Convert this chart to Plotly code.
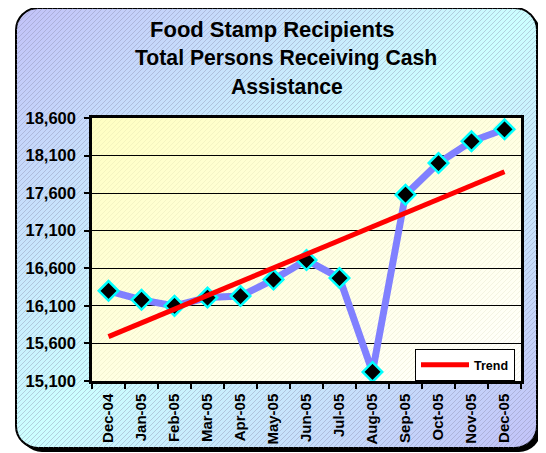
import base64
import plotly.graph_objects as go

# data
months = ['Dec-04', 'Jan-05', 'Feb-05', 'Mar-05', 'Apr-05', 'May-05', 'Jun-05',
          'Jul-05', 'Aug-05', 'Sep-05', 'Oct-05', 'Nov-05', 'Dec-05']
recipients = [16300, 16180, 16100, 16210, 16230, 16450, 16710,
              16470, 15220, 17580, 18000, 18290, 18450]
trend_months = ['Dec-04', 'Dec-05']
trend_values = [15690, 17885]
y_ticks = [15100, 15600, 16100, 16600, 17100, 17600, 18100, 18600]

W, H = 546, 453
OFF = 8  # page body margin, figure starts at (8, 8) in the window
# plot area in window pixels: x 92..521, y 118..381
L, T = 92 - OFF, 118 - OFF
R, B = W - (521 - OFF), H - (381 - OFF)
pw, ph = W - L - R, H - T - B

FONT = 'Liberation Sans, Arial, sans-serif'

# background: rounded box with diagonal gradient + hatching, pale plot area
bx, by, bw, bh = 16 - OFF, 0, 521, 448 - OFF
svg = f'''<svg xmlns="http://www.w3.org/2000/svg" width="{W}" height="{H}" viewBox="0 0 {W} {H}">
<defs>
<linearGradient id="bg" x1="0" y1="0" x2="1" y2="1">
<stop offset="0" stop-color="#c2c2f8"/><stop offset="0.5" stop-color="#ccffff"/><stop offset="1" stop-color="#c2c2f8"/>
</linearGradient>
<linearGradient id="pa" x1="0" y1="0" x2="1" y2="1">
<stop offset="0" stop-color="#ffffc2"/><stop offset="1" stop-color="#ffffff"/>
</linearGradient>
<pattern id="hatch" patternUnits="userSpaceOnUse" width="5" height="5">
<path d="M-1,1 l2,-2 M0,5 l5,-5 M4,6 l2,-2" stroke="#8a8aa8" stroke-width="0.7" stroke-opacity="0.55"/>
</pattern>
<pattern id="hatch2" patternUnits="userSpaceOnUse" width="5" height="5">
<path d="M-1,1 l2,-2 M0,5 l5,-5 M4,6 l2,-2" stroke="#c8c8a0" stroke-width="0.6" stroke-opacity="0.35"/>
</pattern>
</defs>
<rect x="{bx + 4}" y="{by + 4}" width="{bw}" height="{bh}" rx="22" fill="#000"/>
<rect x="{bx}" y="{by}" width="{bw}" height="{bh}" rx="22" fill="url(#bg)" stroke="#000" stroke-width="2"/>
<rect x="{bx}" y="{by}" width="{bw}" height="{bh}" rx="22" fill="url(#hatch)"/>
<rect x="{L}" y="{T}" width="{pw}" height="{ph}" fill="url(#pa)"/>
<rect x="{L}" y="{T}" width="{pw}" height="{ph}" fill="url(#hatch2)"/>
</svg>'''
bg_src = 'data:image/svg+xml;base64,' + base64.b64encode(svg.encode()).decode()

fig = go.Figure()
fig.add_trace(go.Scatter(
    x=months, y=recipients, mode='lines+markers', showlegend=False,
    line=dict(color='#8080ff', width=7),
    marker=dict(symbol='diamond', size=15, color='black',
                line=dict(color='#00ffff', width=2.5))))
fig.add_trace(go.Scatter(
    x=trend_months, y=trend_values, mode='lines', name='Trend',
    line=dict(color='#ff0000', width=5)))

# window pixel -> paper coords
def px_x(p):
    return (p - OFF - L) / pw

def px_y(p):
    return (H - B - (p - OFF)) / ph

titles = [('Food Stamp Recipients', 22, 272, 29),
          ('Total Persons Receiving Cash', 21.2, 285.5, 58),
          ('Assistance', 21.2, 286.5, 86)]
for txt, size, cx, cy in titles:
    fig.add_annotation(text=txt, xref='paper', yref='paper', x=px_x(cx), y=px_y(cy),
                       xanchor='center', yanchor='middle', showarrow=False,
                       font=dict(family=FONT, size=size, color='black', weight='bold'))

fig.add_layout_image(source=bg_src, xref='paper', yref='paper',
                     x=-L / pw, y=1 + T / ph, sizex=W / pw, sizey=H / ph,
                     xanchor='left', yanchor='top', sizing='stretch', layer='below')

fig.update_xaxes(type='category', range=[-0.5, 12.5], tickson='boundaries',
                 ticks='outside', ticklen=5, tickcolor='black', tickwidth=1.5,
                 tickangle=-90, showgrid=False, showline=True, linecolor='black',
                 linewidth=2.5, mirror=True, ticklabelstandoff=4,
                 tickfont=dict(family=FONT, size=15, color='black', weight='bold'))
fig.update_yaxes(range=[15100, 18600], tickvals=y_ticks, tickformat=',',
                 ticks='outside', ticklen=5, tickcolor='black', tickwidth=1.5,
                 showgrid=True, gridcolor='black', gridwidth=1,
                 showline=True, linecolor='black', linewidth=2.5, mirror=True,
                 zeroline=False, ticklabelstandoff=5,
                 tickfont=dict(family=FONT, size=16.5, color='black', weight='bold'))

fig.update_layout(
    width=W, height=H, margin=dict(l=L, r=R, t=T, b=B),
    paper_bgcolor='white', plot_bgcolor='rgba(0,0,0,0)',
    legend=dict(x=px_x(415), y=0, xanchor='left', yanchor='bottom',
                bgcolor='white', bordercolor='black', borderwidth=1,
                itemwidth=48, tracegroupgap=0,
                font=dict(family=FONT, size=12.5, color='black', weight='bold')),
)

fig.write_html('out.html')
